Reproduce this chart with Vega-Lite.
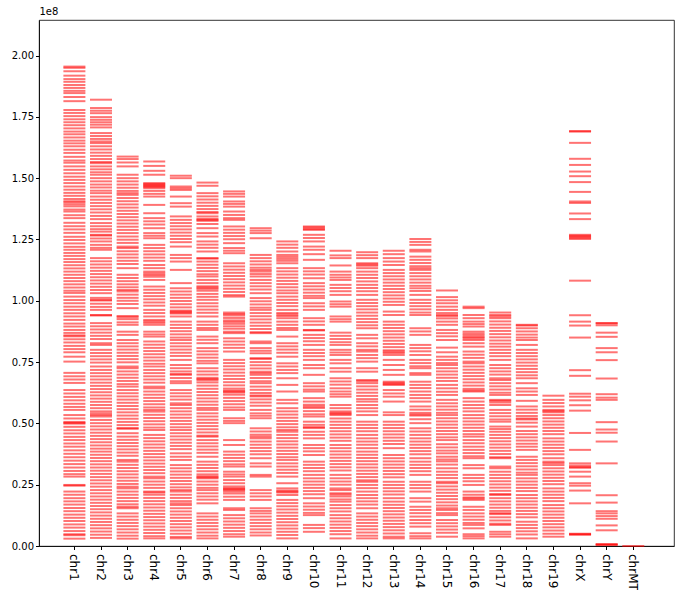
{
  "$schema": "https://vega.github.io/schema/vega-lite/v6.json",
  "width": 635,
  "height": 526,
  "autosize": "none",
  "padding": {"left": 39, "top": 20, "right": 12, "bottom": 44},
  "data": {
    "values": [
      {"c":"chr1","p":195.5},{"c":"chr1","p":195.0},{"c":"chr1","p":193.6},{"c":"chr1","p":191.8},{"c":"chr1","p":190.4},{"c":"chr1","p":189.3},{"c":"chr1","p":188.0},{"c":"chr1","p":186.8},{"c":"chr1","p":185.6},{"c":"chr1","p":184.7},{"c":"chr1","p":183.1},{"c":"chr1","p":181.4},{"c":"chr1","p":177.8},{"c":"chr1","p":176.6},{"c":"chr1","p":175.3},{"c":"chr1","p":174.0},{"c":"chr1","p":172.8},{"c":"chr1","p":171.6},{"c":"chr1","p":170.3},{"c":"chr1","p":169.0},{"c":"chr1","p":167.9},{"c":"chr1","p":166.6},{"c":"chr1","p":165.3},{"c":"chr1","p":164.2},{"c":"chr1","p":163.0},{"c":"chr1","p":161.6},{"c":"chr1","p":160.3},{"c":"chr1","p":158.7},{"c":"chr1","p":157.2},{"c":"chr1","p":156.3},{"c":"chr1","p":154.8},{"c":"chr1","p":153.4},{"c":"chr1","p":152.0},{"c":"chr1","p":150.6},{"c":"chr1","p":149.3},{"c":"chr1","p":148.0},{"c":"chr1","p":146.6},{"c":"chr1","p":145.3},{"c":"chr1","p":144.0},{"c":"chr1","p":142.8},{"c":"chr1","p":141.5},{"c":"chr1","p":140.6},{"c":"chr1","p":140.1},{"c":"chr1","p":139.3},{"c":"chr1","p":138.5},{"c":"chr1","p":137.2},{"c":"chr1","p":136.4},{"c":"chr1","p":134.9},{"c":"chr1","p":133.7},{"c":"chr1","p":131.8},{"c":"chr1","p":130.4},{"c":"chr1","p":129.1},{"c":"chr1","p":127.7},{"c":"chr1","p":126.1},{"c":"chr1","p":124.8},{"c":"chr1","p":123.4},{"c":"chr1","p":122.0},{"c":"chr1","p":120.8},{"c":"chr1","p":119.5},{"c":"chr1","p":118.3},{"c":"chr1","p":117.0},{"c":"chr1","p":115.8},{"c":"chr1","p":114.5},{"c":"chr1","p":113.2},{"c":"chr1","p":111.9},{"c":"chr1","p":110.6},{"c":"chr1","p":109.3},{"c":"chr1","p":108.0},{"c":"chr1","p":106.7},{"c":"chr1","p":105.4},{"c":"chr1","p":104.1},{"c":"chr1","p":103.2},{"c":"chr1","p":101.7},{"c":"chr1","p":100.3},{"c":"chr1","p":99.0},{"c":"chr1","p":97.6},{"c":"chr1","p":96.3},{"c":"chr1","p":94.9},{"c":"chr1","p":93.6},{"c":"chr1","p":92.2},{"c":"chr1","p":90.7},{"c":"chr1","p":89.5},{"c":"chr1","p":88.1},{"c":"chr1","p":86.9},{"c":"chr1","p":85.9},{"c":"chr1","p":85.5},{"c":"chr1","p":84.3},{"c":"chr1","p":83.0},{"c":"chr1","p":81.6},{"c":"chr1","p":80.3},{"c":"chr1","p":79.0},{"c":"chr1","p":77.2},{"c":"chr1","p":75.2},{"c":"chr1","p":70.6},{"c":"chr1","p":69.2},{"c":"chr1","p":67.9},{"c":"chr1","p":66.5},{"c":"chr1","p":63.6},{"c":"chr1","p":62.2},{"c":"chr1","p":60.8},{"c":"chr1","p":59.4},{"c":"chr1","p":58.0},{"c":"chr1","p":56.7},{"c":"chr1","p":55.5},{"c":"chr1","p":53.4},{"c":"chr1","p":52.0},{"c":"chr1","p":50.6},{"c":"chr1","p":50.2},{"c":"chr1","p":49.9},{"c":"chr1","p":48.6},{"c":"chr1","p":47.2},{"c":"chr1","p":45.9},{"c":"chr1","p":44.5},{"c":"chr1","p":43.2},{"c":"chr1","p":41.8},{"c":"chr1","p":40.5},{"c":"chr1","p":39.0},{"c":"chr1","p":37.6},{"c":"chr1","p":36.2},{"c":"chr1","p":34.8},{"c":"chr1","p":33.4},{"c":"chr1","p":32.0},{"c":"chr1","p":30.6},{"c":"chr1","p":29.3},{"c":"chr1","p":28.3},{"c":"chr1","p":24.9},{"c":"chr1","p":24.6},{"c":"chr1","p":22.2},{"c":"chr1","p":20.9},{"c":"chr1","p":19.5},{"c":"chr1","p":18.2},{"c":"chr1","p":16.9},{"c":"chr1","p":15.5},{"c":"chr1","p":14.2},{"c":"chr1","p":12.8},{"c":"chr1","p":11.5},{"c":"chr1","p":10.2},{"c":"chr1","p":8.8},{"c":"chr1","p":7.5},{"c":"chr1","p":6.1},{"c":"chr1","p":4.8},{"c":"chr1","p":4.4},{"c":"chr1","p":3.0},
      {"c":"chr2","p":182.0},{"c":"chr2","p":178.6},{"c":"chr2","p":177.5},{"c":"chr2","p":176.5},{"c":"chr2","p":174.9},{"c":"chr2","p":173.8},{"c":"chr2","p":172.8},{"c":"chr2","p":171.8},{"c":"chr2","p":170.7},{"c":"chr2","p":168.4},{"c":"chr2","p":167.2},{"c":"chr2","p":166.0},{"c":"chr2","p":165.0},{"c":"chr2","p":164.3},{"c":"chr2","p":163.0},{"c":"chr2","p":161.7},{"c":"chr2","p":160.4},{"c":"chr2","p":159.1},{"c":"chr2","p":157.8},{"c":"chr2","p":156.6},{"c":"chr2","p":156.1},{"c":"chr2","p":154.8},{"c":"chr2","p":153.6},{"c":"chr2","p":152.4},{"c":"chr2","p":151.4},{"c":"chr2","p":150.0},{"c":"chr2","p":148.7},{"c":"chr2","p":147.4},{"c":"chr2","p":146.2},{"c":"chr2","p":144.9},{"c":"chr2","p":143.9},{"c":"chr2","p":142.5},{"c":"chr2","p":141.2},{"c":"chr2","p":139.9},{"c":"chr2","p":138.6},{"c":"chr2","p":137.3},{"c":"chr2","p":136.0},{"c":"chr2","p":134.6},{"c":"chr2","p":133.3},{"c":"chr2","p":131.7},{"c":"chr2","p":130.4},{"c":"chr2","p":129.2},{"c":"chr2","p":128.2},{"c":"chr2","p":126.9},{"c":"chr2","p":126.6},{"c":"chr2","p":125.4},{"c":"chr2","p":124.2},{"c":"chr2","p":122.8},{"c":"chr2","p":121.6},{"c":"chr2","p":120.8},{"c":"chr2","p":117.4},{"c":"chr2","p":116.1},{"c":"chr2","p":114.8},{"c":"chr2","p":113.5},{"c":"chr2","p":112.2},{"c":"chr2","p":110.9},{"c":"chr2","p":109.6},{"c":"chr2","p":108.3},{"c":"chr2","p":107.0},{"c":"chr2","p":105.7},{"c":"chr2","p":104.4},{"c":"chr2","p":103.1},{"c":"chr2","p":101.2},{"c":"chr2","p":100.4},{"c":"chr2","p":100.1},{"c":"chr2","p":98.8},{"c":"chr2","p":97.5},{"c":"chr2","p":96.3},{"c":"chr2","p":94.2},{"c":"chr2","p":94.0},{"c":"chr2","p":90.9},{"c":"chr2","p":89.6},{"c":"chr2","p":88.3},{"c":"chr2","p":87.0},{"c":"chr2","p":85.7},{"c":"chr2","p":84.4},{"c":"chr2","p":82.7},{"c":"chr2","p":82.0},{"c":"chr2","p":80.0},{"c":"chr2","p":78.7},{"c":"chr2","p":77.4},{"c":"chr2","p":76.1},{"c":"chr2","p":74.8},{"c":"chr2","p":73.2},{"c":"chr2","p":71.8},{"c":"chr2","p":70.5},{"c":"chr2","p":69.2},{"c":"chr2","p":67.9},{"c":"chr2","p":66.6},{"c":"chr2","p":65.3},{"c":"chr2","p":64.0},{"c":"chr2","p":62.7},{"c":"chr2","p":61.4},{"c":"chr2","p":60.1},{"c":"chr2","p":58.8},{"c":"chr2","p":57.5},{"c":"chr2","p":56.2},{"c":"chr2","p":54.9},{"c":"chr2","p":54.1},{"c":"chr2","p":53.4},{"c":"chr2","p":52.8},{"c":"chr2","p":51.4},{"c":"chr2","p":50.1},{"c":"chr2","p":48.8},{"c":"chr2","p":47.5},{"c":"chr2","p":46.2},{"c":"chr2","p":44.9},{"c":"chr2","p":43.6},{"c":"chr2","p":42.3},{"c":"chr2","p":41.0},{"c":"chr2","p":39.7},{"c":"chr2","p":38.5},{"c":"chr2","p":37.2},{"c":"chr2","p":35.9},{"c":"chr2","p":34.6},{"c":"chr2","p":33.3},{"c":"chr2","p":32.0},{"c":"chr2","p":30.7},{"c":"chr2","p":29.4},{"c":"chr2","p":28.1},{"c":"chr2","p":26.8},{"c":"chr2","p":25.5},{"c":"chr2","p":24.2},{"c":"chr2","p":22.8},{"c":"chr2","p":21.5},{"c":"chr2","p":20.2},{"c":"chr2","p":18.9},{"c":"chr2","p":17.6},{"c":"chr2","p":16.3},{"c":"chr2","p":15.0},{"c":"chr2","p":13.7},{"c":"chr2","p":12.4},{"c":"chr2","p":11.1},{"c":"chr2","p":9.8},{"c":"chr2","p":8.5},{"c":"chr2","p":7.2},{"c":"chr2","p":5.9},{"c":"chr2","p":4.6},{"c":"chr2","p":3.3},
      {"c":"chr3","p":158.8},{"c":"chr3","p":157.8},{"c":"chr3","p":156.4},{"c":"chr3","p":154.8},{"c":"chr3","p":151.4},{"c":"chr3","p":150.0},{"c":"chr3","p":148.7},{"c":"chr3","p":147.4},{"c":"chr3","p":146.1},{"c":"chr3","p":144.8},{"c":"chr3","p":143.9},{"c":"chr3","p":143.2},{"c":"chr3","p":141.9},{"c":"chr3","p":140.6},{"c":"chr3","p":139.3},{"c":"chr3","p":138.0},{"c":"chr3","p":136.7},{"c":"chr3","p":135.4},{"c":"chr3","p":134.1},{"c":"chr3","p":132.8},{"c":"chr3","p":131.5},{"c":"chr3","p":130.2},{"c":"chr3","p":128.9},{"c":"chr3","p":127.6},{"c":"chr3","p":126.2},{"c":"chr3","p":124.9},{"c":"chr3","p":123.6},{"c":"chr3","p":122.1},{"c":"chr3","p":121.5},{"c":"chr3","p":120.2},{"c":"chr3","p":118.9},{"c":"chr3","p":117.6},{"c":"chr3","p":116.3},{"c":"chr3","p":115.0},{"c":"chr3","p":113.3},{"c":"chr3","p":110.6},{"c":"chr3","p":109.3},{"c":"chr3","p":108.0},{"c":"chr3","p":106.7},{"c":"chr3","p":105.5},{"c":"chr3","p":104.4},{"c":"chr3","p":103.8},{"c":"chr3","p":102.5},{"c":"chr3","p":101.2},{"c":"chr3","p":100.0},{"c":"chr3","p":98.7},{"c":"chr3","p":97.0},{"c":"chr3","p":93.8},{"c":"chr3","p":93.3},{"c":"chr3","p":92.5},{"c":"chr3","p":91.2},{"c":"chr3","p":90.2},{"c":"chr3","p":87.4},{"c":"chr3","p":86.1},{"c":"chr3","p":84.0},{"c":"chr3","p":82.7},{"c":"chr3","p":81.4},{"c":"chr3","p":80.1},{"c":"chr3","p":78.8},{"c":"chr3","p":77.5},{"c":"chr3","p":76.2},{"c":"chr3","p":74.9},{"c":"chr3","p":73.2},{"c":"chr3","p":72.5},{"c":"chr3","p":71.2},{"c":"chr3","p":69.9},{"c":"chr3","p":68.6},{"c":"chr3","p":67.3},{"c":"chr3","p":66.0},{"c":"chr3","p":65.0},{"c":"chr3","p":63.6},{"c":"chr3","p":62.3},{"c":"chr3","p":61.0},{"c":"chr3","p":59.7},{"c":"chr3","p":58.4},{"c":"chr3","p":57.1},{"c":"chr3","p":55.8},{"c":"chr3","p":54.5},{"c":"chr3","p":53.2},{"c":"chr3","p":51.9},{"c":"chr3","p":50.6},{"c":"chr3","p":49.3},{"c":"chr3","p":48.1},{"c":"chr3","p":47.8},{"c":"chr3","p":46.0},{"c":"chr3","p":44.6},{"c":"chr3","p":43.3},{"c":"chr3","p":42.0},{"c":"chr3","p":40.7},{"c":"chr3","p":39.4},{"c":"chr3","p":38.1},{"c":"chr3","p":36.8},{"c":"chr3","p":35.1},{"c":"chr3","p":34.4},{"c":"chr3","p":33.1},{"c":"chr3","p":31.8},{"c":"chr3","p":30.5},{"c":"chr3","p":29.2},{"c":"chr3","p":27.9},{"c":"chr3","p":26.6},{"c":"chr3","p":25.3},{"c":"chr3","p":24.2},{"c":"chr3","p":23.5},{"c":"chr3","p":22.2},{"c":"chr3","p":20.9},{"c":"chr3","p":19.6},{"c":"chr3","p":18.3},{"c":"chr3","p":17.0},{"c":"chr3","p":16.0},{"c":"chr3","p":15.4},{"c":"chr3","p":13.3},{"c":"chr3","p":12.0},{"c":"chr3","p":10.7},{"c":"chr3","p":9.4},{"c":"chr3","p":8.1},{"c":"chr3","p":6.8},{"c":"chr3","p":5.5},{"c":"chr3","p":4.2},{"c":"chr3","p":3.0},
      {"c":"chr4","p":156.8},{"c":"chr4","p":155.0},{"c":"chr4","p":153.0},{"c":"chr4","p":151.4},{"c":"chr4","p":148.0},{"c":"chr4","p":147.6},{"c":"chr4","p":147.2},{"c":"chr4","p":146.8},{"c":"chr4","p":146.4},{"c":"chr4","p":145.9},{"c":"chr4","p":144.8},{"c":"chr4","p":143.6},{"c":"chr4","p":142.5},{"c":"chr4","p":139.1},{"c":"chr4","p":135.7},{"c":"chr4","p":133.7},{"c":"chr4","p":132.4},{"c":"chr4","p":131.1},{"c":"chr4","p":129.6},{"c":"chr4","p":127.6},{"c":"chr4","p":126.5},{"c":"chr4","p":125.5},{"c":"chr4","p":122.8},{"c":"chr4","p":121.5},{"c":"chr4","p":120.2},{"c":"chr4","p":118.9},{"c":"chr4","p":117.6},{"c":"chr4","p":116.3},{"c":"chr4","p":114.6},{"c":"chr4","p":113.3},{"c":"chr4","p":111.9},{"c":"chr4","p":111.2},{"c":"chr4","p":110.5},{"c":"chr4","p":109.8},{"c":"chr4","p":108.5},{"c":"chr4","p":105.8},{"c":"chr4","p":104.5},{"c":"chr4","p":103.2},{"c":"chr4","p":101.9},{"c":"chr4","p":100.6},{"c":"chr4","p":99.3},{"c":"chr4","p":98.0},{"c":"chr4","p":96.3},{"c":"chr4","p":95.0},{"c":"chr4","p":93.6},{"c":"chr4","p":92.2},{"c":"chr4","p":91.6},{"c":"chr4","p":91.0},{"c":"chr4","p":90.2},{"c":"chr4","p":87.4},{"c":"chr4","p":86.3},{"c":"chr4","p":85.4},{"c":"chr4","p":83.4},{"c":"chr4","p":82.1},{"c":"chr4","p":80.8},{"c":"chr4","p":79.5},{"c":"chr4","p":78.2},{"c":"chr4","p":76.9},{"c":"chr4","p":75.6},{"c":"chr4","p":74.3},{"c":"chr4","p":73.2},{"c":"chr4","p":71.8},{"c":"chr4","p":70.5},{"c":"chr4","p":69.2},{"c":"chr4","p":67.9},{"c":"chr4","p":66.6},{"c":"chr4","p":65.0},{"c":"chr4","p":64.3},{"c":"chr4","p":63.0},{"c":"chr4","p":61.7},{"c":"chr4","p":60.4},{"c":"chr4","p":59.1},{"c":"chr4","p":57.8},{"c":"chr4","p":56.5},{"c":"chr4","p":55.5},{"c":"chr4","p":54.8},{"c":"chr4","p":53.5},{"c":"chr4","p":52.2},{"c":"chr4","p":50.9},{"c":"chr4","p":49.6},{"c":"chr4","p":48.3},{"c":"chr4","p":47.3},{"c":"chr4","p":45.3},{"c":"chr4","p":44.0},{"c":"chr4","p":42.7},{"c":"chr4","p":41.4},{"c":"chr4","p":40.1},{"c":"chr4","p":38.8},{"c":"chr4","p":37.5},{"c":"chr4","p":36.2},{"c":"chr4","p":34.9},{"c":"chr4","p":33.6},{"c":"chr4","p":32.3},{"c":"chr4","p":31.0},{"c":"chr4","p":29.7},{"c":"chr4","p":28.3},{"c":"chr4","p":27.6},{"c":"chr4","p":26.3},{"c":"chr4","p":25.0},{"c":"chr4","p":23.7},{"c":"chr4","p":22.2},{"c":"chr4","p":21.8},{"c":"chr4","p":20.9},{"c":"chr4","p":19.6},{"c":"chr4","p":18.3},{"c":"chr4","p":17.0},{"c":"chr4","p":15.7},{"c":"chr4","p":14.4},{"c":"chr4","p":13.1},{"c":"chr4","p":11.8},{"c":"chr4","p":10.5},{"c":"chr4","p":9.2},{"c":"chr4","p":7.9},{"c":"chr4","p":6.6},{"c":"chr4","p":5.3},{"c":"chr4","p":4.0},{"c":"chr4","p":3.1},
      {"c":"chr5","p":151.0},{"c":"chr5","p":150.0},{"c":"chr5","p":146.6},{"c":"chr5","p":145.9},{"c":"chr5","p":145.2},{"c":"chr5","p":142.5},{"c":"chr5","p":139.8},{"c":"chr5","p":138.4},{"c":"chr5","p":134.4},{"c":"chr5","p":133.0},{"c":"chr5","p":131.7},{"c":"chr5","p":130.4},{"c":"chr5","p":129.1},{"c":"chr5","p":127.8},{"c":"chr5","p":126.5},{"c":"chr5","p":125.2},{"c":"chr5","p":123.9},{"c":"chr5","p":122.1},{"c":"chr5","p":118.7},{"c":"chr5","p":117.4},{"c":"chr5","p":116.0},{"c":"chr5","p":112.6},{"c":"chr5","p":107.2},{"c":"chr5","p":105.1},{"c":"chr5","p":103.8},{"c":"chr5","p":102.5},{"c":"chr5","p":101.2},{"c":"chr5","p":99.9},{"c":"chr5","p":98.6},{"c":"chr5","p":97.3},{"c":"chr5","p":96.0},{"c":"chr5","p":95.6},{"c":"chr5","p":95.2},{"c":"chr5","p":94.8},{"c":"chr5","p":93.6},{"c":"chr5","p":91.5},{"c":"chr5","p":90.2},{"c":"chr5","p":88.9},{"c":"chr5","p":87.6},{"c":"chr5","p":86.3},{"c":"chr5","p":85.0},{"c":"chr5","p":84.0},{"c":"chr5","p":82.7},{"c":"chr5","p":81.4},{"c":"chr5","p":80.1},{"c":"chr5","p":78.8},{"c":"chr5","p":77.5},{"c":"chr5","p":75.9},{"c":"chr5","p":73.8},{"c":"chr5","p":72.5},{"c":"chr5","p":71.2},{"c":"chr5","p":70.2},{"c":"chr5","p":69.8},{"c":"chr5","p":68.5},{"c":"chr5","p":67.2},{"c":"chr5","p":66.4},{"c":"chr5","p":63.6},{"c":"chr5","p":62.3},{"c":"chr5","p":61.0},{"c":"chr5","p":59.7},{"c":"chr5","p":58.2},{"c":"chr5","p":57.5},{"c":"chr5","p":56.2},{"c":"chr5","p":54.9},{"c":"chr5","p":53.6},{"c":"chr5","p":52.3},{"c":"chr5","p":51.0},{"c":"chr5","p":49.7},{"c":"chr5","p":48.4},{"c":"chr5","p":47.3},{"c":"chr5","p":46.0},{"c":"chr5","p":44.7},{"c":"chr5","p":43.4},{"c":"chr5","p":42.1},{"c":"chr5","p":40.8},{"c":"chr5","p":39.5},{"c":"chr5","p":37.8},{"c":"chr5","p":36.4},{"c":"chr5","p":35.1},{"c":"chr5","p":33.0},{"c":"chr5","p":31.7},{"c":"chr5","p":30.4},{"c":"chr5","p":29.1},{"c":"chr5","p":27.8},{"c":"chr5","p":26.5},{"c":"chr5","p":25.2},{"c":"chr5","p":23.9},{"c":"chr5","p":22.8},{"c":"chr5","p":22.2},{"c":"chr5","p":20.9},{"c":"chr5","p":19.6},{"c":"chr5","p":18.3},{"c":"chr5","p":17.4},{"c":"chr5","p":16.7},{"c":"chr5","p":15.4},{"c":"chr5","p":14.1},{"c":"chr5","p":12.8},{"c":"chr5","p":11.5},{"c":"chr5","p":10.2},{"c":"chr5","p":8.9},{"c":"chr5","p":7.6},{"c":"chr5","p":6.3},{"c":"chr5","p":5.0},{"c":"chr5","p":3.7},{"c":"chr5","p":3.1},
      {"c":"chr6","p":148.2},{"c":"chr6","p":146.9},{"c":"chr6","p":143.9},{"c":"chr6","p":142.6},{"c":"chr6","p":141.3},{"c":"chr6","p":140.0},{"c":"chr6","p":138.7},{"c":"chr6","p":137.4},{"c":"chr6","p":136.2},{"c":"chr6","p":135.7},{"c":"chr6","p":134.4},{"c":"chr6","p":133.4},{"c":"chr6","p":133.0},{"c":"chr6","p":132.6},{"c":"chr6","p":131.3},{"c":"chr6","p":129.6},{"c":"chr6","p":127.6},{"c":"chr6","p":126.2},{"c":"chr6","p":124.2},{"c":"chr6","p":122.9},{"c":"chr6","p":121.6},{"c":"chr6","p":120.1},{"c":"chr6","p":117.4},{"c":"chr6","p":117.2},{"c":"chr6","p":116.0},{"c":"chr6","p":114.7},{"c":"chr6","p":113.4},{"c":"chr6","p":112.1},{"c":"chr6","p":110.8},{"c":"chr6","p":109.9},{"c":"chr6","p":108.5},{"c":"chr6","p":107.2},{"c":"chr6","p":105.9},{"c":"chr6","p":105.4},{"c":"chr6","p":104.9},{"c":"chr6","p":104.1},{"c":"chr6","p":102.8},{"c":"chr6","p":101.6},{"c":"chr6","p":100.4},{"c":"chr6","p":99.0},{"c":"chr6","p":97.7},{"c":"chr6","p":96.4},{"c":"chr6","p":95.1},{"c":"chr6","p":93.6},{"c":"chr6","p":91.5},{"c":"chr6","p":90.2},{"c":"chr6","p":88.9},{"c":"chr6","p":88.1},{"c":"chr6","p":85.4},{"c":"chr6","p":84.1},{"c":"chr6","p":82.7},{"c":"chr6","p":80.7},{"c":"chr6","p":79.4},{"c":"chr6","p":78.1},{"c":"chr6","p":76.8},{"c":"chr6","p":75.5},{"c":"chr6","p":74.5},{"c":"chr6","p":72.5},{"c":"chr6","p":71.2},{"c":"chr6","p":69.9},{"c":"chr6","p":68.6},{"c":"chr6","p":68.1},{"c":"chr6","p":67.6},{"c":"chr6","p":66.7},{"c":"chr6","p":65.4},{"c":"chr6","p":64.1},{"c":"chr6","p":62.8},{"c":"chr6","p":61.5},{"c":"chr6","p":60.2},{"c":"chr6","p":58.9},{"c":"chr6","p":57.6},{"c":"chr6","p":56.3},{"c":"chr6","p":55.5},{"c":"chr6","p":54.1},{"c":"chr6","p":52.8},{"c":"chr6","p":51.5},{"c":"chr6","p":50.2},{"c":"chr6","p":48.9},{"c":"chr6","p":47.6},{"c":"chr6","p":46.3},{"c":"chr6","p":45.0},{"c":"chr6","p":44.6},{"c":"chr6","p":43.2},{"c":"chr6","p":41.9},{"c":"chr6","p":40.6},{"c":"chr6","p":39.3},{"c":"chr6","p":38.0},{"c":"chr6","p":36.4},{"c":"chr6","p":34.4},{"c":"chr6","p":33.1},{"c":"chr6","p":31.8},{"c":"chr6","p":30.5},{"c":"chr6","p":29.2},{"c":"chr6","p":28.4},{"c":"chr6","p":28.0},{"c":"chr6","p":27.6},{"c":"chr6","p":26.3},{"c":"chr6","p":25.0},{"c":"chr6","p":23.7},{"c":"chr6","p":22.8},{"c":"chr6","p":21.5},{"c":"chr6","p":20.2},{"c":"chr6","p":18.9},{"c":"chr6","p":17.4},{"c":"chr6","p":13.3},{"c":"chr6","p":12.0},{"c":"chr6","p":10.7},{"c":"chr6","p":9.4},{"c":"chr6","p":8.1},{"c":"chr6","p":6.8},{"c":"chr6","p":5.5},{"c":"chr6","p":4.2},{"c":"chr6","p":3.1},
      {"c":"chr7","p":144.6},{"c":"chr7","p":143.6},{"c":"chr7","p":142.5},{"c":"chr7","p":140.5},{"c":"chr7","p":139.5},{"c":"chr7","p":138.4},{"c":"chr7","p":136.4},{"c":"chr7","p":135.0},{"c":"chr7","p":133.7},{"c":"chr7","p":133.0},{"c":"chr7","p":130.3},{"c":"chr7","p":129.0},{"c":"chr7","p":127.7},{"c":"chr7","p":126.4},{"c":"chr7","p":125.1},{"c":"chr7","p":123.5},{"c":"chr7","p":121.5},{"c":"chr7","p":120.4},{"c":"chr7","p":119.4},{"c":"chr7","p":115.3},{"c":"chr7","p":114.0},{"c":"chr7","p":112.7},{"c":"chr7","p":111.4},{"c":"chr7","p":110.1},{"c":"chr7","p":108.8},{"c":"chr7","p":107.5},{"c":"chr7","p":106.2},{"c":"chr7","p":104.9},{"c":"chr7","p":103.6},{"c":"chr7","p":102.3},{"c":"chr7","p":101.7},{"c":"chr7","p":95.2},{"c":"chr7","p":94.6},{"c":"chr7","p":94.0},{"c":"chr7","p":93.0},{"c":"chr7","p":92.0},{"c":"chr7","p":91.4},{"c":"chr7","p":90.6},{"c":"chr7","p":89.6},{"c":"chr7","p":88.6},{"c":"chr7","p":87.4},{"c":"chr7","p":86.8},{"c":"chr7","p":84.7},{"c":"chr7","p":83.4},{"c":"chr7","p":82.1},{"c":"chr7","p":80.8},{"c":"chr7","p":79.3},{"c":"chr7","p":75.9},{"c":"chr7","p":74.6},{"c":"chr7","p":73.3},{"c":"chr7","p":72.0},{"c":"chr7","p":70.7},{"c":"chr7","p":69.4},{"c":"chr7","p":68.1},{"c":"chr7","p":66.8},{"c":"chr7","p":65.5},{"c":"chr7","p":64.2},{"c":"chr7","p":63.4},{"c":"chr7","p":63.0},{"c":"chr7","p":62.6},{"c":"chr7","p":61.7},{"c":"chr7","p":60.4},{"c":"chr7","p":59.1},{"c":"chr7","p":57.8},{"c":"chr7","p":56.5},{"c":"chr7","p":55.5},{"c":"chr7","p":52.1},{"c":"chr7","p":51.0},{"c":"chr7","p":50.1},{"c":"chr7","p":43.2},{"c":"chr7","p":41.2},{"c":"chr7","p":38.5},{"c":"chr7","p":37.2},{"c":"chr7","p":35.9},{"c":"chr7","p":34.6},{"c":"chr7","p":33.3},{"c":"chr7","p":32.4},{"c":"chr7","p":30.3},{"c":"chr7","p":29.2},{"c":"chr7","p":28.3},{"c":"chr7","p":26.9},{"c":"chr7","p":25.6},{"c":"chr7","p":24.3},{"c":"chr7","p":23.6},{"c":"chr7","p":23.2},{"c":"chr7","p":22.8},{"c":"chr7","p":22.2},{"c":"chr7","p":21.4},{"c":"chr7","p":20.1},{"c":"chr7","p":18.8},{"c":"chr7","p":15.4},{"c":"chr7","p":14.7},{"c":"chr7","p":12.6},{"c":"chr7","p":11.3},{"c":"chr7","p":10.0},{"c":"chr7","p":8.7},{"c":"chr7","p":7.4},{"c":"chr7","p":6.1},{"c":"chr7","p":4.8},{"c":"chr7","p":3.8},
      {"c":"chr8","p":129.6},{"c":"chr8","p":128.6},{"c":"chr8","p":127.6},{"c":"chr8","p":125.5},{"c":"chr8","p":118.7},{"c":"chr8","p":117.4},{"c":"chr8","p":116.1},{"c":"chr8","p":114.8},{"c":"chr8","p":113.5},{"c":"chr8","p":112.6},{"c":"chr8","p":111.9},{"c":"chr8","p":110.9},{"c":"chr8","p":109.9},{"c":"chr8","p":108.5},{"c":"chr8","p":107.2},{"c":"chr8","p":105.9},{"c":"chr8","p":104.6},{"c":"chr8","p":103.1},{"c":"chr8","p":101.1},{"c":"chr8","p":99.8},{"c":"chr8","p":98.5},{"c":"chr8","p":97.2},{"c":"chr8","p":96.3},{"c":"chr8","p":95.0},{"c":"chr8","p":93.7},{"c":"chr8","p":92.4},{"c":"chr8","p":91.1},{"c":"chr8","p":89.8},{"c":"chr8","p":88.5},{"c":"chr8","p":87.2},{"c":"chr8","p":86.8},{"c":"chr8","p":83.4},{"c":"chr8","p":82.7},{"c":"chr8","p":80.7},{"c":"chr8","p":79.6},{"c":"chr8","p":78.6},{"c":"chr8","p":76.6},{"c":"chr8","p":76.3},{"c":"chr8","p":75.0},{"c":"chr8","p":73.7},{"c":"chr8","p":72.4},{"c":"chr8","p":71.1},{"c":"chr8","p":70.5},{"c":"chr8","p":69.8},{"c":"chr8","p":68.5},{"c":"chr8","p":67.2},{"c":"chr8","p":66.4},{"c":"chr8","p":65.0},{"c":"chr8","p":63.7},{"c":"chr8","p":62.4},{"c":"chr8","p":61.4},{"c":"chr8","p":61.0},{"c":"chr8","p":59.8},{"c":"chr8","p":58.5},{"c":"chr8","p":57.2},{"c":"chr8","p":55.5},{"c":"chr8","p":54.1},{"c":"chr8","p":53.1},{"c":"chr8","p":52.1},{"c":"chr8","p":48.0},{"c":"chr8","p":46.7},{"c":"chr8","p":45.4},{"c":"chr8","p":44.6},{"c":"chr8","p":43.9},{"c":"chr8","p":42.6},{"c":"chr8","p":41.3},{"c":"chr8","p":40.0},{"c":"chr8","p":38.7},{"c":"chr8","p":37.4},{"c":"chr8","p":35.8},{"c":"chr8","p":33.7},{"c":"chr8","p":32.4},{"c":"chr8","p":29.0},{"c":"chr8","p":28.3},{"c":"chr8","p":22.8},{"c":"chr8","p":21.5},{"c":"chr8","p":20.2},{"c":"chr8","p":18.8},{"c":"chr8","p":15.4},{"c":"chr8","p":14.3},{"c":"chr8","p":13.3},{"c":"chr8","p":12.0},{"c":"chr8","p":10.7},{"c":"chr8","p":9.4},{"c":"chr8","p":8.1},{"c":"chr8","p":6.8},{"c":"chr8","p":5.5},{"c":"chr8","p":4.3},
      {"c":"chr9","p":124.2},{"c":"chr9","p":122.9},{"c":"chr9","p":121.6},{"c":"chr9","p":120.1},{"c":"chr9","p":118.7},{"c":"chr9","p":117.9},{"c":"chr9","p":117.1},{"c":"chr9","p":116.3},{"c":"chr9","p":115.3},{"c":"chr9","p":113.3},{"c":"chr9","p":112.0},{"c":"chr9","p":110.7},{"c":"chr9","p":109.4},{"c":"chr9","p":108.1},{"c":"chr9","p":106.8},{"c":"chr9","p":105.5},{"c":"chr9","p":104.2},{"c":"chr9","p":103.1},{"c":"chr9","p":101.7},{"c":"chr9","p":100.4},{"c":"chr9","p":99.1},{"c":"chr9","p":97.8},{"c":"chr9","p":96.3},{"c":"chr9","p":95.0},{"c":"chr9","p":94.4},{"c":"chr9","p":93.8},{"c":"chr9","p":92.9},{"c":"chr9","p":91.5},{"c":"chr9","p":90.2},{"c":"chr9","p":88.9},{"c":"chr9","p":88.1},{"c":"chr9","p":85.4},{"c":"chr9","p":82.7},{"c":"chr9","p":81.4},{"c":"chr9","p":80.1},{"c":"chr9","p":78.8},{"c":"chr9","p":77.2},{"c":"chr9","p":74.5},{"c":"chr9","p":73.2},{"c":"chr9","p":71.8},{"c":"chr9","p":70.5},{"c":"chr9","p":68.4},{"c":"chr9","p":65.7},{"c":"chr9","p":63.0},{"c":"chr9","p":59.6},{"c":"chr9","p":58.2},{"c":"chr9","p":56.2},{"c":"chr9","p":54.9},{"c":"chr9","p":53.6},{"c":"chr9","p":52.3},{"c":"chr9","p":51.0},{"c":"chr9","p":49.7},{"c":"chr9","p":48.4},{"c":"chr9","p":47.3},{"c":"chr9","p":46.6},{"c":"chr9","p":45.3},{"c":"chr9","p":44.0},{"c":"chr9","p":42.7},{"c":"chr9","p":41.4},{"c":"chr9","p":40.1},{"c":"chr9","p":38.8},{"c":"chr9","p":37.5},{"c":"chr9","p":36.2},{"c":"chr9","p":35.1},{"c":"chr9","p":33.7},{"c":"chr9","p":32.4},{"c":"chr9","p":31.1},{"c":"chr9","p":29.8},{"c":"chr9","p":28.3},{"c":"chr9","p":25.6},{"c":"chr9","p":23.5},{"c":"chr9","p":22.6},{"c":"chr9","p":22.2},{"c":"chr9","p":21.8},{"c":"chr9","p":20.8},{"c":"chr9","p":18.8},{"c":"chr9","p":17.5},{"c":"chr9","p":16.2},{"c":"chr9","p":14.9},{"c":"chr9","p":13.6},{"c":"chr9","p":12.3},{"c":"chr9","p":11.0},{"c":"chr9","p":9.7},{"c":"chr9","p":8.4},{"c":"chr9","p":7.1},{"c":"chr9","p":5.8},{"c":"chr9","p":4.5},{"c":"chr9","p":3.1},
      {"c":"chr10","p":130.3},{"c":"chr10","p":129.9},{"c":"chr10","p":129.3},{"c":"chr10","p":128.9},{"c":"chr10","p":126.9},{"c":"chr10","p":125.6},{"c":"chr10","p":124.2},{"c":"chr10","p":122.1},{"c":"chr10","p":120.8},{"c":"chr10","p":119.0},{"c":"chr10","p":116.7},{"c":"chr10","p":113.3},{"c":"chr10","p":112.0},{"c":"chr10","p":110.7},{"c":"chr10","p":109.2},{"c":"chr10","p":107.2},{"c":"chr10","p":105.9},{"c":"chr10","p":104.6},{"c":"chr10","p":103.3},{"c":"chr10","p":102.0},{"c":"chr10","p":101.1},{"c":"chr10","p":99.0},{"c":"chr10","p":97.7},{"c":"chr10","p":96.3},{"c":"chr10","p":92.9},{"c":"chr10","p":91.6},{"c":"chr10","p":90.2},{"c":"chr10","p":88.1},{"c":"chr10","p":87.9},{"c":"chr10","p":86.1},{"c":"chr10","p":84.8},{"c":"chr10","p":83.5},{"c":"chr10","p":82.0},{"c":"chr10","p":80.0},{"c":"chr10","p":78.7},{"c":"chr10","p":77.4},{"c":"chr10","p":75.9},{"c":"chr10","p":73.8},{"c":"chr10","p":72.5},{"c":"chr10","p":69.8},{"c":"chr10","p":66.4},{"c":"chr10","p":65.1},{"c":"chr10","p":63.8},{"c":"chr10","p":63.0},{"c":"chr10","p":60.3},{"c":"chr10","p":58.9},{"c":"chr10","p":57.6},{"c":"chr10","p":56.9},{"c":"chr10","p":56.3},{"c":"chr10","p":55.0},{"c":"chr10","p":53.7},{"c":"chr10","p":52.8},{"c":"chr10","p":50.7},{"c":"chr10","p":49.4},{"c":"chr10","p":48.5},{"c":"chr10","p":48.1},{"c":"chr10","p":46.6},{"c":"chr10","p":45.3},{"c":"chr10","p":43.9},{"c":"chr10","p":41.2},{"c":"chr10","p":39.9},{"c":"chr10","p":38.6},{"c":"chr10","p":37.1},{"c":"chr10","p":34.4},{"c":"chr10","p":33.1},{"c":"chr10","p":31.8},{"c":"chr10","p":30.5},{"c":"chr10","p":29.0},{"c":"chr10","p":27.6},{"c":"chr10","p":26.3},{"c":"chr10","p":25.0},{"c":"chr10","p":23.7},{"c":"chr10","p":22.4},{"c":"chr10","p":21.1},{"c":"chr10","p":19.5},{"c":"chr10","p":17.4},{"c":"chr10","p":16.1},{"c":"chr10","p":14.8},{"c":"chr10","p":13.5},{"c":"chr10","p":12.6},{"c":"chr10","p":8.6},{"c":"chr10","p":7.3},{"c":"chr10","p":5.8},
      {"c":"chr11","p":120.4},{"c":"chr11","p":118.5},{"c":"chr11","p":117.4},{"c":"chr11","p":114.4},{"c":"chr11","p":111.9},{"c":"chr11","p":110.6},{"c":"chr11","p":109.5},{"c":"chr11","p":108.5},{"c":"chr11","p":106.5},{"c":"chr11","p":105.2},{"c":"chr11","p":103.9},{"c":"chr11","p":102.4},{"c":"chr11","p":99.7},{"c":"chr11","p":98.6},{"c":"chr11","p":97.6},{"c":"chr11","p":93.6},{"c":"chr11","p":92.5},{"c":"chr11","p":91.5},{"c":"chr11","p":87.0},{"c":"chr11","p":85.7},{"c":"chr11","p":84.4},{"c":"chr11","p":83.1},{"c":"chr11","p":82.0},{"c":"chr11","p":80.0},{"c":"chr11","p":78.9},{"c":"chr11","p":77.9},{"c":"chr11","p":75.9},{"c":"chr11","p":74.5},{"c":"chr11","p":72.5},{"c":"chr11","p":71.1},{"c":"chr11","p":68.4},{"c":"chr11","p":67.1},{"c":"chr11","p":65.8},{"c":"chr11","p":64.3},{"c":"chr11","p":63.0},{"c":"chr11","p":61.9},{"c":"chr11","p":60.9},{"c":"chr11","p":57.5},{"c":"chr11","p":56.2},{"c":"chr11","p":54.9},{"c":"chr11","p":54.3},{"c":"chr11","p":53.9},{"c":"chr11","p":53.4},{"c":"chr11","p":52.0},{"c":"chr11","p":50.7},{"c":"chr11","p":49.4},{"c":"chr11","p":48.1},{"c":"chr11","p":46.8},{"c":"chr11","p":45.5},{"c":"chr11","p":44.2},{"c":"chr11","p":42.9},{"c":"chr11","p":41.2},{"c":"chr11","p":39.9},{"c":"chr11","p":38.6},{"c":"chr11","p":37.3},{"c":"chr11","p":36.0},{"c":"chr11","p":34.7},{"c":"chr11","p":33.4},{"c":"chr11","p":32.1},{"c":"chr11","p":30.8},{"c":"chr11","p":29.0},{"c":"chr11","p":27.6},{"c":"chr11","p":26.3},{"c":"chr11","p":25.0},{"c":"chr11","p":23.5},{"c":"chr11","p":22.8},{"c":"chr11","p":21.5},{"c":"chr11","p":21.0},{"c":"chr11","p":20.2},{"c":"chr11","p":19.0},{"c":"chr11","p":18.1},{"c":"chr11","p":16.7},{"c":"chr11","p":15.4},{"c":"chr11","p":14.1},{"c":"chr11","p":12.6},{"c":"chr11","p":11.3},{"c":"chr11","p":10.0},{"c":"chr11","p":8.7},{"c":"chr11","p":7.4},{"c":"chr11","p":6.1},{"c":"chr11","p":4.8},{"c":"chr11","p":3.1},
      {"c":"chr12","p":119.8},{"c":"chr12","p":118.6},{"c":"chr12","p":117.4},{"c":"chr12","p":115.3},{"c":"chr12","p":114.8},{"c":"chr12","p":114.3},{"c":"chr12","p":113.3},{"c":"chr12","p":111.9},{"c":"chr12","p":110.6},{"c":"chr12","p":109.3},{"c":"chr12","p":107.9},{"c":"chr12","p":106.5},{"c":"chr12","p":105.2},{"c":"chr12","p":103.9},{"c":"chr12","p":102.4},{"c":"chr12","p":100.4},{"c":"chr12","p":99.1},{"c":"chr12","p":97.8},{"c":"chr12","p":96.5},{"c":"chr12","p":95.2},{"c":"chr12","p":93.9},{"c":"chr12","p":92.6},{"c":"chr12","p":91.3},{"c":"chr12","p":90.0},{"c":"chr12","p":88.8},{"c":"chr12","p":86.1},{"c":"chr12","p":84.7},{"c":"chr12","p":82.7},{"c":"chr12","p":81.4},{"c":"chr12","p":80.0},{"c":"chr12","p":79.3},{"c":"chr12","p":77.9},{"c":"chr12","p":76.6},{"c":"chr12","p":75.2},{"c":"chr12","p":72.5},{"c":"chr12","p":71.1},{"c":"chr12","p":67.7},{"c":"chr12","p":67.2},{"c":"chr12","p":66.4},{"c":"chr12","p":65.1},{"c":"chr12","p":63.8},{"c":"chr12","p":62.5},{"c":"chr12","p":61.2},{"c":"chr12","p":59.9},{"c":"chr12","p":58.9},{"c":"chr12","p":57.5},{"c":"chr12","p":56.2},{"c":"chr12","p":54.9},{"c":"chr12","p":53.4},{"c":"chr12","p":50.7},{"c":"chr12","p":49.4},{"c":"chr12","p":48.1},{"c":"chr12","p":46.8},{"c":"chr12","p":45.3},{"c":"chr12","p":43.9},{"c":"chr12","p":42.6},{"c":"chr12","p":41.3},{"c":"chr12","p":39.9},{"c":"chr12","p":38.5},{"c":"chr12","p":37.2},{"c":"chr12","p":35.9},{"c":"chr12","p":34.6},{"c":"chr12","p":33.3},{"c":"chr12","p":32.0},{"c":"chr12","p":30.7},{"c":"chr12","p":29.4},{"c":"chr12","p":28.1},{"c":"chr12","p":26.8},{"c":"chr12","p":26.2},{"c":"chr12","p":24.9},{"c":"chr12","p":23.6},{"c":"chr12","p":22.2},{"c":"chr12","p":20.8},{"c":"chr12","p":19.5},{"c":"chr12","p":18.2},{"c":"chr12","p":16.9},{"c":"chr12","p":15.4},{"c":"chr12","p":13.3},{"c":"chr12","p":12.0},{"c":"chr12","p":10.7},{"c":"chr12","p":9.4},{"c":"chr12","p":8.1},{"c":"chr12","p":6.8},{"c":"chr12","p":5.5},{"c":"chr12","p":4.2},{"c":"chr12","p":3.1},
      {"c":"chr13","p":120.4},{"c":"chr13","p":119.0},{"c":"chr13","p":117.4},{"c":"chr13","p":116.0},{"c":"chr13","p":114.6},{"c":"chr13","p":112.6},{"c":"chr13","p":111.3},{"c":"chr13","p":110.0},{"c":"chr13","p":108.7},{"c":"chr13","p":107.4},{"c":"chr13","p":106.1},{"c":"chr13","p":104.8},{"c":"chr13","p":103.5},{"c":"chr13","p":102.2},{"c":"chr13","p":100.9},{"c":"chr13","p":99.6},{"c":"chr13","p":98.3},{"c":"chr13","p":95.6},{"c":"chr13","p":94.2},{"c":"chr13","p":91.5},{"c":"chr13","p":90.2},{"c":"chr13","p":88.9},{"c":"chr13","p":87.6},{"c":"chr13","p":86.3},{"c":"chr13","p":85.0},{"c":"chr13","p":83.7},{"c":"chr13","p":82.4},{"c":"chr13","p":81.1},{"c":"chr13","p":79.8},{"c":"chr13","p":79.3},{"c":"chr13","p":78.7},{"c":"chr13","p":77.9},{"c":"chr13","p":75.9},{"c":"chr13","p":73.8},{"c":"chr13","p":71.8},{"c":"chr13","p":69.8},{"c":"chr13","p":67.0},{"c":"chr13","p":66.5},{"c":"chr13","p":66.0},{"c":"chr13","p":65.7},{"c":"chr13","p":63.6},{"c":"chr13","p":62.2},{"c":"chr13","p":60.9},{"c":"chr13","p":58.9},{"c":"chr13","p":54.5},{"c":"chr13","p":53.4},{"c":"chr13","p":50.7},{"c":"chr13","p":49.4},{"c":"chr13","p":48.1},{"c":"chr13","p":46.8},{"c":"chr13","p":45.5},{"c":"chr13","p":44.2},{"c":"chr13","p":42.9},{"c":"chr13","p":41.6},{"c":"chr13","p":39.9},{"c":"chr13","p":37.1},{"c":"chr13","p":35.8},{"c":"chr13","p":34.5},{"c":"chr13","p":33.2},{"c":"chr13","p":31.9},{"c":"chr13","p":30.6},{"c":"chr13","p":29.3},{"c":"chr13","p":28.0},{"c":"chr13","p":26.2},{"c":"chr13","p":24.9},{"c":"chr13","p":23.6},{"c":"chr13","p":22.3},{"c":"chr13","p":21.0},{"c":"chr13","p":19.5},{"c":"chr13","p":18.1},{"c":"chr13","p":16.8},{"c":"chr13","p":15.5},{"c":"chr13","p":14.2},{"c":"chr13","p":12.9},{"c":"chr13","p":11.6},{"c":"chr13","p":10.3},{"c":"chr13","p":9.0},{"c":"chr13","p":7.7},{"c":"chr13","p":6.4},{"c":"chr13","p":5.1},{"c":"chr13","p":3.8},{"c":"chr13","p":3.1},
      {"c":"chr14","p":125.2},{"c":"chr14","p":124.0},{"c":"chr14","p":122.8},{"c":"chr14","p":120.8},{"c":"chr14","p":120.1},{"c":"chr14","p":118.0},{"c":"chr14","p":116.7},{"c":"chr14","p":115.4},{"c":"chr14","p":114.1},{"c":"chr14","p":113.3},{"c":"chr14","p":112.6},{"c":"chr14","p":111.3},{"c":"chr14","p":110.0},{"c":"chr14","p":108.7},{"c":"chr14","p":107.4},{"c":"chr14","p":106.1},{"c":"chr14","p":105.1},{"c":"chr14","p":104.0},{"c":"chr14","p":102.4},{"c":"chr14","p":100.4},{"c":"chr14","p":99.1},{"c":"chr14","p":97.8},{"c":"chr14","p":96.5},{"c":"chr14","p":95.2},{"c":"chr14","p":94.2},{"c":"chr14","p":88.8},{"c":"chr14","p":87.5},{"c":"chr14","p":86.1},{"c":"chr14","p":82.0},{"c":"chr14","p":80.7},{"c":"chr14","p":79.4},{"c":"chr14","p":77.9},{"c":"chr14","p":75.9},{"c":"chr14","p":74.6},{"c":"chr14","p":73.3},{"c":"chr14","p":72.5},{"c":"chr14","p":70.5},{"c":"chr14","p":69.8},{"c":"chr14","p":67.0},{"c":"chr14","p":65.7},{"c":"chr14","p":64.4},{"c":"chr14","p":63.0},{"c":"chr14","p":61.6},{"c":"chr14","p":60.3},{"c":"chr14","p":58.9},{"c":"chr14","p":56.9},{"c":"chr14","p":55.6},{"c":"chr14","p":54.3},{"c":"chr14","p":53.6},{"c":"chr14","p":53.2},{"c":"chr14","p":51.7},{"c":"chr14","p":50.1},{"c":"chr14","p":48.0},{"c":"chr14","p":46.7},{"c":"chr14","p":45.3},{"c":"chr14","p":43.9},{"c":"chr14","p":42.6},{"c":"chr14","p":41.3},{"c":"chr14","p":40.0},{"c":"chr14","p":38.7},{"c":"chr14","p":37.4},{"c":"chr14","p":35.8},{"c":"chr14","p":34.4},{"c":"chr14","p":33.1},{"c":"chr14","p":31.8},{"c":"chr14","p":30.5},{"c":"chr14","p":29.0},{"c":"chr14","p":26.2},{"c":"chr14","p":24.9},{"c":"chr14","p":23.6},{"c":"chr14","p":22.2},{"c":"chr14","p":19.5},{"c":"chr14","p":18.1},{"c":"chr14","p":16.0},{"c":"chr14","p":14.7},{"c":"chr14","p":13.4},{"c":"chr14","p":12.0},{"c":"chr14","p":10.6},{"c":"chr14","p":9.3},{"c":"chr14","p":7.9},{"c":"chr14","p":5.2},{"c":"chr14","p":4.0},{"c":"chr14","p":3.1},
      {"c":"chr15","p":104.2},{"c":"chr15","p":101.5},{"c":"chr15","p":100.2},{"c":"chr15","p":99.0},{"c":"chr15","p":97.6},{"c":"chr15","p":96.3},{"c":"chr15","p":95.0},{"c":"chr15","p":94.2},{"c":"chr15","p":93.7},{"c":"chr15","p":92.8},{"c":"chr15","p":91.5},{"c":"chr15","p":90.2},{"c":"chr15","p":88.1},{"c":"chr15","p":86.8},{"c":"chr15","p":85.5},{"c":"chr15","p":84.0},{"c":"chr15","p":80.9},{"c":"chr15","p":79.0},{"c":"chr15","p":77.2},{"c":"chr15","p":75.9},{"c":"chr15","p":74.6},{"c":"chr15","p":73.8},{"c":"chr15","p":72.5},{"c":"chr15","p":71.2},{"c":"chr15","p":69.9},{"c":"chr15","p":68.6},{"c":"chr15","p":67.3},{"c":"chr15","p":65.7},{"c":"chr15","p":64.3},{"c":"chr15","p":62.9},{"c":"chr15","p":61.6},{"c":"chr15","p":59.6},{"c":"chr15","p":58.2},{"c":"chr15","p":56.9},{"c":"chr15","p":55.6},{"c":"chr15","p":54.3},{"c":"chr15","p":53.4},{"c":"chr15","p":52.1},{"c":"chr15","p":50.8},{"c":"chr15","p":49.5},{"c":"chr15","p":48.2},{"c":"chr15","p":46.9},{"c":"chr15","p":45.6},{"c":"chr15","p":44.3},{"c":"chr15","p":43.2},{"c":"chr15","p":41.5},{"c":"chr15","p":40.2},{"c":"chr15","p":38.9},{"c":"chr15","p":37.8},{"c":"chr15","p":36.4},{"c":"chr15","p":35.3},{"c":"chr15","p":34.5},{"c":"chr15","p":33.2},{"c":"chr15","p":31.7},{"c":"chr15","p":30.3},{"c":"chr15","p":29.0},{"c":"chr15","p":27.7},{"c":"chr15","p":26.2},{"c":"chr15","p":25.6},{"c":"chr15","p":24.3},{"c":"chr15","p":23.0},{"c":"chr15","p":21.7},{"c":"chr15","p":20.4},{"c":"chr15","p":19.1},{"c":"chr15","p":17.8},{"c":"chr15","p":16.5},{"c":"chr15","p":15.4},{"c":"chr15","p":14.7},{"c":"chr15","p":13.4},{"c":"chr15","p":12.6},{"c":"chr15","p":10.6},{"c":"chr15","p":9.3},{"c":"chr15","p":8.0},{"c":"chr15","p":6.7},{"c":"chr15","p":5.4},{"c":"chr15","p":3.8},
      {"c":"chr16","p":97.6},{"c":"chr16","p":97.0},{"c":"chr16","p":94.2},{"c":"chr16","p":92.9},{"c":"chr16","p":91.5},{"c":"chr16","p":90.5},{"c":"chr16","p":89.5},{"c":"chr16","p":87.4},{"c":"chr16","p":86.6},{"c":"chr16","p":85.9},{"c":"chr16","p":85.2},{"c":"chr16","p":84.7},{"c":"chr16","p":84.0},{"c":"chr16","p":82.7},{"c":"chr16","p":81.3},{"c":"chr16","p":79.3},{"c":"chr16","p":78.0},{"c":"chr16","p":76.7},{"c":"chr16","p":75.2},{"c":"chr16","p":74.5},{"c":"chr16","p":73.2},{"c":"chr16","p":71.9},{"c":"chr16","p":70.6},{"c":"chr16","p":69.3},{"c":"chr16","p":68.0},{"c":"chr16","p":66.7},{"c":"chr16","p":65.4},{"c":"chr16","p":64.1},{"c":"chr16","p":63.4},{"c":"chr16","p":63.0},{"c":"chr16","p":60.3},{"c":"chr16","p":58.9},{"c":"chr16","p":57.5},{"c":"chr16","p":56.2},{"c":"chr16","p":54.9},{"c":"chr16","p":53.4},{"c":"chr16","p":52.1},{"c":"chr16","p":50.8},{"c":"chr16","p":49.5},{"c":"chr16","p":48.2},{"c":"chr16","p":46.9},{"c":"chr16","p":45.6},{"c":"chr16","p":44.6},{"c":"chr16","p":43.2},{"c":"chr16","p":41.9},{"c":"chr16","p":40.5},{"c":"chr16","p":39.2},{"c":"chr16","p":37.9},{"c":"chr16","p":36.6},{"c":"chr16","p":35.8},{"c":"chr16","p":33.0},{"c":"chr16","p":31.7},{"c":"chr16","p":29.0},{"c":"chr16","p":27.7},{"c":"chr16","p":26.4},{"c":"chr16","p":24.9},{"c":"chr16","p":22.2},{"c":"chr16","p":20.9},{"c":"chr16","p":19.8},{"c":"chr16","p":19.4},{"c":"chr16","p":18.8},{"c":"chr16","p":16.0},{"c":"chr16","p":14.7},{"c":"chr16","p":13.3},{"c":"chr16","p":12.0},{"c":"chr16","p":10.7},{"c":"chr16","p":9.4},{"c":"chr16","p":8.6},{"c":"chr16","p":7.2},{"c":"chr16","p":4.8},{"c":"chr16","p":4.0},{"c":"chr16","p":3.1},
      {"c":"chr17","p":95.2},{"c":"chr17","p":94.2},{"c":"chr17","p":93.6},{"c":"chr17","p":92.9},{"c":"chr17","p":91.6},{"c":"chr17","p":90.3},{"c":"chr17","p":89.0},{"c":"chr17","p":87.7},{"c":"chr17","p":86.4},{"c":"chr17","p":85.1},{"c":"chr17","p":83.8},{"c":"chr17","p":82.5},{"c":"chr17","p":81.3},{"c":"chr17","p":80.0},{"c":"chr17","p":78.7},{"c":"chr17","p":77.4},{"c":"chr17","p":75.9},{"c":"chr17","p":73.8},{"c":"chr17","p":72.5},{"c":"chr17","p":71.2},{"c":"chr17","p":69.9},{"c":"chr17","p":68.4},{"c":"chr17","p":67.7},{"c":"chr17","p":66.4},{"c":"chr17","p":65.1},{"c":"chr17","p":63.8},{"c":"chr17","p":62.5},{"c":"chr17","p":61.6},{"c":"chr17","p":59.6},{"c":"chr17","p":59.2},{"c":"chr17","p":58.5},{"c":"chr17","p":57.5},{"c":"chr17","p":55.5},{"c":"chr17","p":54.2},{"c":"chr17","p":52.9},{"c":"chr17","p":51.6},{"c":"chr17","p":50.7},{"c":"chr17","p":48.7},{"c":"chr17","p":47.7},{"c":"chr17","p":46.6},{"c":"chr17","p":45.3},{"c":"chr17","p":44.0},{"c":"chr17","p":42.7},{"c":"chr17","p":41.4},{"c":"chr17","p":40.1},{"c":"chr17","p":38.8},{"c":"chr17","p":37.5},{"c":"chr17","p":36.2},{"c":"chr17","p":35.8},{"c":"chr17","p":32.4},{"c":"chr17","p":31.7},{"c":"chr17","p":30.3},{"c":"chr17","p":29.0},{"c":"chr17","p":27.7},{"c":"chr17","p":26.4},{"c":"chr17","p":25.1},{"c":"chr17","p":23.8},{"c":"chr17","p":22.5},{"c":"chr17","p":21.2},{"c":"chr17","p":20.8},{"c":"chr17","p":19.5},{"c":"chr17","p":18.2},{"c":"chr17","p":16.9},{"c":"chr17","p":15.6},{"c":"chr17","p":14.3},{"c":"chr17","p":13.4},{"c":"chr17","p":13.0},{"c":"chr17","p":11.7},{"c":"chr17","p":10.4},{"c":"chr17","p":9.1},{"c":"chr17","p":8.6},{"c":"chr17","p":5.8},{"c":"chr17","p":4.8},{"c":"chr17","p":3.8},
      {"c":"chr18","p":90.2},{"c":"chr18","p":89.9},{"c":"chr18","p":88.8},{"c":"chr18","p":87.5},{"c":"chr18","p":86.2},{"c":"chr18","p":85.0},{"c":"chr18","p":84.0},{"c":"chr18","p":82.0},{"c":"chr18","p":80.0},{"c":"chr18","p":78.7},{"c":"chr18","p":77.4},{"c":"chr18","p":76.1},{"c":"chr18","p":74.8},{"c":"chr18","p":73.5},{"c":"chr18","p":72.2},{"c":"chr18","p":70.9},{"c":"chr18","p":69.6},{"c":"chr18","p":68.4},{"c":"chr18","p":66.4},{"c":"chr18","p":64.3},{"c":"chr18","p":63.0},{"c":"chr18","p":61.6},{"c":"chr18","p":59.2},{"c":"chr18","p":56.9},{"c":"chr18","p":55.6},{"c":"chr18","p":54.3},{"c":"chr18","p":53.0},{"c":"chr18","p":52.0},{"c":"chr18","p":51.6},{"c":"chr18","p":50.3},{"c":"chr18","p":48.7},{"c":"chr18","p":46.9},{"c":"chr18","p":45.6},{"c":"chr18","p":44.3},{"c":"chr18","p":43.0},{"c":"chr18","p":41.7},{"c":"chr18","p":40.5},{"c":"chr18","p":39.2},{"c":"chr18","p":36.4},{"c":"chr18","p":35.1},{"c":"chr18","p":33.8},{"c":"chr18","p":32.5},{"c":"chr18","p":31.2},{"c":"chr18","p":29.9},{"c":"chr18","p":29.0},{"c":"chr18","p":27.6},{"c":"chr18","p":26.3},{"c":"chr18","p":25.0},{"c":"chr18","p":23.7},{"c":"chr18","p":22.4},{"c":"chr18","p":20.8},{"c":"chr18","p":19.5},{"c":"chr18","p":18.2},{"c":"chr18","p":16.9},{"c":"chr18","p":15.6},{"c":"chr18","p":14.3},{"c":"chr18","p":13.0},{"c":"chr18","p":11.7},{"c":"chr18","p":9.9},{"c":"chr18","p":8.6},{"c":"chr18","p":7.3},{"c":"chr18","p":6.0},{"c":"chr18","p":4.7},{"c":"chr18","p":3.1},
      {"c":"chr19","p":61.3},{"c":"chr19","p":59.6},{"c":"chr19","p":58.3},{"c":"chr19","p":56.9},{"c":"chr19","p":55.5},{"c":"chr19","p":55.0},{"c":"chr19","p":54.5},{"c":"chr19","p":53.4},{"c":"chr19","p":52.1},{"c":"chr19","p":50.8},{"c":"chr19","p":49.5},{"c":"chr19","p":48.2},{"c":"chr19","p":46.9},{"c":"chr19","p":45.6},{"c":"chr19","p":43.9},{"c":"chr19","p":42.6},{"c":"chr19","p":41.3},{"c":"chr19","p":40.0},{"c":"chr19","p":38.7},{"c":"chr19","p":37.4},{"c":"chr19","p":35.8},{"c":"chr19","p":34.4},{"c":"chr19","p":33.8},{"c":"chr19","p":33.0},{"c":"chr19","p":31.7},{"c":"chr19","p":30.4},{"c":"chr19","p":29.1},{"c":"chr19","p":27.8},{"c":"chr19","p":26.5},{"c":"chr19","p":25.2},{"c":"chr19","p":23.5},{"c":"chr19","p":22.2},{"c":"chr19","p":20.9},{"c":"chr19","p":19.6},{"c":"chr19","p":18.3},{"c":"chr19","p":16.7},{"c":"chr19","p":15.4},{"c":"chr19","p":14.1},{"c":"chr19","p":12.8},{"c":"chr19","p":11.5},{"c":"chr19","p":10.2},{"c":"chr19","p":8.9},{"c":"chr19","p":7.6},{"c":"chr19","p":6.3},{"c":"chr19","p":5.0},{"c":"chr19","p":3.8},
      {"c":"chrX","p":169.2},{"c":"chrX","p":169.0},{"c":"chrX","p":164.4},{"c":"chrX","p":157.9},{"c":"chrX","p":155.4},{"c":"chrX","p":152.7},{"c":"chrX","p":150.8},{"c":"chrX","p":148.4},{"c":"chrX","p":144.4},{"c":"chrX","p":140.5},{"c":"chrX","p":139.9},{"c":"chrX","p":135.6},{"c":"chrX","p":133.3},{"c":"chrX","p":126.9},{"c":"chrX","p":126.5},{"c":"chrX","p":126.1},{"c":"chrX","p":125.7},{"c":"chrX","p":125.2},{"c":"chrX","p":108.2},{"c":"chrX","p":94.1},{"c":"chrX","p":91.5},{"c":"chrX","p":89.9},{"c":"chrX","p":85.0},{"c":"chrX","p":71.7},{"c":"chrX","p":69.4},{"c":"chrX","p":62.1},{"c":"chrX","p":60.9},{"c":"chrX","p":59.4},{"c":"chrX","p":57.4},{"c":"chrX","p":55.2},{"c":"chrX","p":46.1},{"c":"chrX","p":39.2},{"c":"chrX","p":33.7},{"c":"chrX","p":32.8},{"c":"chrX","p":32.2},{"c":"chrX","p":31.9},{"c":"chrX","p":30.3},{"c":"chrX","p":28.3},{"c":"chrX","p":25.6},{"c":"chrX","p":24.6},{"c":"chrX","p":22.6},{"c":"chrX","p":17.4},{"c":"chrX","p":5.0},{"c":"chrX","p":4.8},{"c":"chrX","p":4.6},
      {"c":"chrY","p":90.9},{"c":"chrY","p":90.8},{"c":"chrY","p":90.0},{"c":"chrY","p":87.0},{"c":"chrY","p":85.3},{"c":"chrY","p":80.7},{"c":"chrY","p":79.0},{"c":"chrY","p":75.8},{"c":"chrY","p":68.3},{"c":"chrY","p":61.9},{"c":"chrY","p":60.5},{"c":"chrY","p":59.6},{"c":"chrY","p":50.5},{"c":"chrY","p":47.5},{"c":"chrY","p":46.2},{"c":"chrY","p":42.6},{"c":"chrY","p":33.7},{"c":"chrY","p":20.7},{"c":"chrY","p":17.7},{"c":"chrY","p":14.2},{"c":"chrY","p":13.3},{"c":"chrY","p":12.2},{"c":"chrY","p":11.1},{"c":"chrY","p":8.4},{"c":"chrY","p":6.4},{"c":"chrY","p":0.8},{"c":"chrY","p":0.6},{"c":"chrY","p":0.4},
      {"c":"chrMT","p":0.01}
    ]
  },
  "mark": {
    "type": "tick",
    "orient": "horizontal",
    "color": "#ff0000",
    "opacity": 0.55,
    "size": 22,
    "thickness": 2
  },
  "encoding": {
    "x": {
      "field": "c",
      "type": "nominal",
      "scale": {
        "type": "band",
        "domain": ["chr1","chr2","chr3","chr4","chr5","chr6","chr7","chr8","chr9","chr10","chr11","chr12","chr13","chr14","chr15","chr16","chr17","chr18","chr19","chrX","chrY","chrMT"],
        "paddingInner": 0.14,
        "paddingOuter": 1.09,
        "align": 0.45
      },
      "axis": {"title": null, "labelAngle": 90, "labelFontSize": 12, "labelPadding": 4}
    },
    "y": {
      "field": "p",
      "type": "quantitative",
      "scale": {"domain": [0, 214.5], "nice": false},
      "axis": {
        "title": "1e8",
        "values": [0, 25, 50, 75, 100, 125, 150, 175, 200],
        "labelExpr": "format(datum.value / 100, '.2f')",
        "titleAngle": 0,
        "titleX": 0,
        "titleY": -4,
        "titleAlign": "left",
        "titleBaseline": "bottom",
        "titleFontWeight": "normal",
        "titleFontSize": 10
      }
    }
  },
  "config": {
    "font": "DejaVu Sans",
    "view": {"stroke": "#000000", "strokeWidth": 0.8},
    "axis": {
      "grid": false,
      "domainColor": "#000000",
      "domainWidth": 0.8,
      "tickColor": "#000000",
      "tickSize": 3.5,
      "labelColor": "#000000",
      "labelFontSize": 10,
      "titleColor": "#000000"
    }
  }
}
